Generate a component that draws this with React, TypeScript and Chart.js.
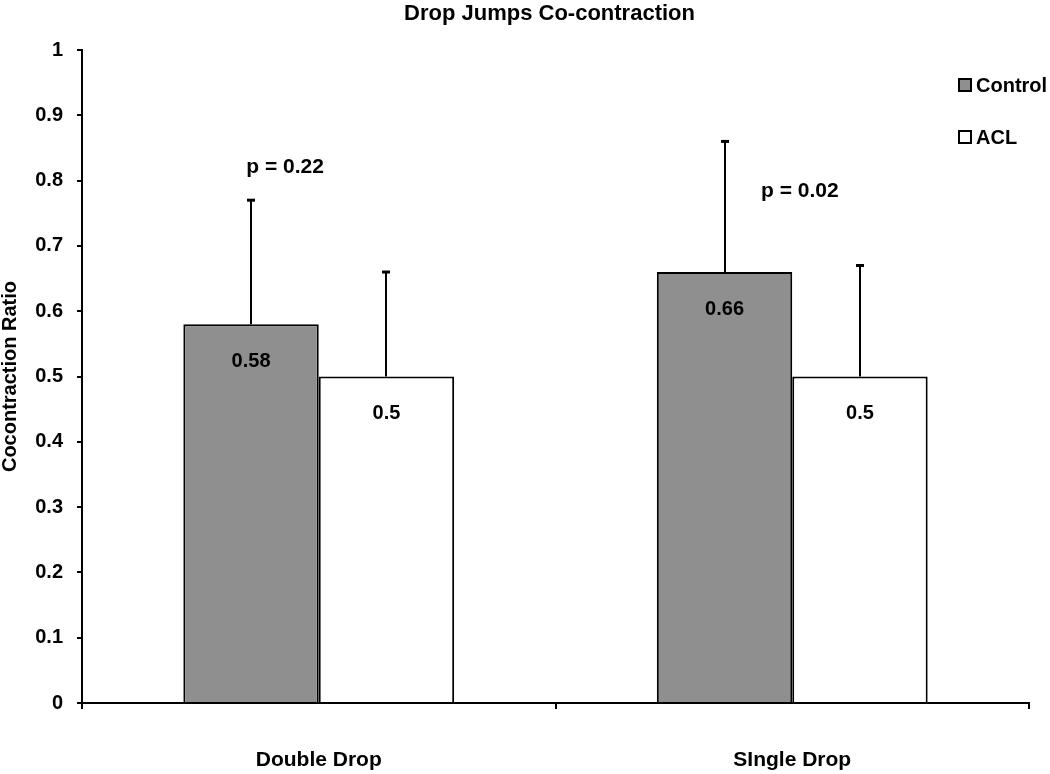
import React, { useEffect, useRef } from 'react';
import { Chart, registerables } from 'chart.js';

Chart.register(...registerables);

const chartTitle = 'Drop Jumps Co-contraction';
const yAxisTitle = 'Cocontraction Ratio';
const categories = ['Double Drop', 'SIngle Drop'];
const seriesNames = ['Control', 'ACL'];
const controlValues = [0.58, 0.66];
const aclValues = [0.5, 0.5];
const controlErrorTops = [0.77, 0.86];
const aclErrorTops = [0.66, 0.67];
const pValueLabels = ['p = 0.22', 'p = 0.02'];
const pValueHeights = [0.821, 0.783];
const pValueShift = [-0.071, 0.016];
const yTickLabels = ['0', '0.1', '0.2', '0.3', '0.4', '0.5', '0.6', '0.7', '0.8', '0.9', '1'];

const FONT = '"Liberation Sans", Arial, Helvetica, sans-serif';
const seriesColors = ['#8f8f8f', '#ffffff'];

const overlayPlugin = {
  id: 'overlay',
  afterDatasetsDraw(chart: any) {
    const { ctx, chartArea, scales } = chart;
    const x = scales.x;
    const y = scales.y;
    const errorTops = [controlErrorTops, aclErrorTops];
    ctx.save();
    chart.data.datasets.forEach((ds: any, di: number) => {
      const meta = chart.getDatasetMeta(di);
      meta.data.forEach((bar: any, i: number) => {
        const top = y.getPixelForValue(errorTops[di][i]);
        const bx = Math.round(bar.x);
        ctx.strokeStyle = '#000';
        ctx.lineWidth = 2;
        ctx.beginPath();
        ctx.moveTo(bx, bar.y);
        ctx.lineTo(bx, top);
        ctx.stroke();
        ctx.lineWidth = 3;
        ctx.beginPath();
        ctx.moveTo(bx - 4, top);
        ctx.lineTo(bx + 4, top);
        ctx.stroke();
        ctx.fillStyle = '#000';
        ctx.font = `bold 20px ${FONT}`;
        ctx.textAlign = 'center';
        ctx.textBaseline = 'middle';
        ctx.fillText(String(ds.data[i]), bar.x, bar.y + 37);
      });
    });
    // p-value annotations
    ctx.font = `bold 21px ${FONT}`;
    ctx.textAlign = 'center';
    ctx.textBaseline = 'middle';
    ctx.fillStyle = '#000';
    pValueLabels.forEach((lbl, i) => {
      ctx.fillText(lbl, x.getPixelForValue(i + pValueShift[i]), y.getPixelForValue(pValueHeights[i]));
    });
    // title
    ctx.font = `bold 22px ${FONT}`;
    ctx.fillText(chartTitle, (chartArea.left + chartArea.right) / 2 - 6, 14);
    // legend
    ctx.font = `bold 20px ${FONT}`;
    ctx.textAlign = 'left';
    const legendY = [86, 138];
    seriesNames.forEach((name, i) => {
      const cy = legendY[i];
      ctx.fillStyle = seriesColors[i];
      ctx.fillRect(959, cy - 7, 12, 12);
      ctx.strokeStyle = '#000';
      ctx.lineWidth = 2;
      ctx.strokeRect(959, cy - 7, 12, 12);
      ctx.fillStyle = '#000';
      ctx.fillText(name, 976, cy);
    });
    ctx.restore();
  },
};

export default function App() {
  const canvasRef = useRef<HTMLCanvasElement | null>(null);

  useEffect(() => {
    const canvas = canvasRef.current;
    if (!canvas) return;
    const chart = new Chart(canvas, {
      type: 'bar',
      data: {
        labels: categories,
        datasets: [
          {
            label: seriesNames[0],
            data: controlValues,
            backgroundColor: seriesColors[0],
            borderColor: '#000',
            borderWidth: 2,
            categoryPercentage: 0.572,
            barPercentage: 1,
          },
          {
            label: seriesNames[1],
            data: aclValues,
            backgroundColor: seriesColors[1],
            borderColor: '#000',
            borderWidth: 2,
            categoryPercentage: 0.572,
            barPercentage: 1,
          },
        ],
      },
      options: {
        animation: false,
        responsive: false,
        devicePixelRatio: 1,
        layout: { padding: { top: 50, right: 21, left: 0, bottom: 0 } },
        plugins: {
          legend: { display: false },
          title: { display: false },
          tooltip: { enabled: false },
        },
        scales: {
          x: {
            offset: true,
            grid: {
              offset: true,
              drawOnChartArea: false,
              drawTicks: true,
              tickLength: 6,
              color: '#000',
              lineWidth: 2,
            },
            border: { display: true, color: '#000', width: 2 },
            ticks: {
              padding: 39,
              color: '#000',
              font: { family: FONT, size: 21, weight: 'bold' },
            },
            afterFit: (s: any) => {
              s.height = 71;
            },
          },
          y: {
            min: 0,
            max: 1,
            ticks: {
              stepSize: 0.1,
              padding: 14,
              color: '#000',
              font: { family: FONT, size: 20, weight: 'bold' },
              callback: (_v: any, i: number) => yTickLabels[i],
            },
            grid: {
              drawOnChartArea: false,
              drawTicks: true,
              tickLength: 5,
              color: '#000',
              lineWidth: 2,
            },
            border: { display: true, color: '#000', width: 2 },
            title: {
              display: true,
              text: yAxisTitle,
              color: '#000',
              font: { family: FONT, size: 20, weight: 'bold', lineHeight: 1 },
              padding: 0,
            },
            afterFit: (s: any) => {
              s.width = 82;
            },
          },
        },
      },
      plugins: [overlayPlugin],
    } as any);
    return () => chart.destroy();
  }, []);

  return (
    <div style={{ position: 'absolute', left: 0, top: 0, width: 1050, height: 774, background: '#fff' }}>
      <canvas ref={canvasRef} width={1050} height={774} />
    </div>
  );
}
